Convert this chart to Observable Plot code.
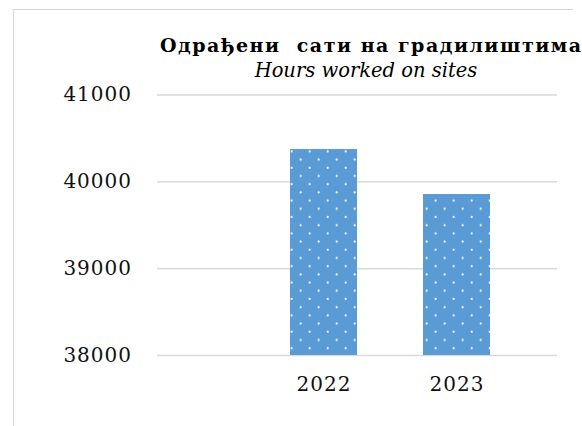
<!DOCTYPE html>
<html>
<head>
<meta charset="utf-8">
<script src="https://cdn.jsdelivr.net/npm/d3@7"></script>
<script src="https://cdn.jsdelivr.net/npm/@observablehq/plot@0.6"></script>
<style>
  html, body { margin: 0; padding: 0; background: #fff; }
  #wrap { position: relative; width: 582px; height: 426px; overflow: hidden; background: #fff; font-family: "DejaVu Serif", serif; }
  #frame { position: absolute; left: 13px; top: 9px; width: 559px; height: 440px; border-top: 1.5px solid #d9d9d9; border-left: 1.5px solid #d9d9d9; }
  .ttl { position: absolute; white-space: pre; color: #000; }
  #title { left: 160px; top: 34px; font-weight: bold; font-size: 19px; letter-spacing: 1.5px; }
  #subtitle { left: 66px; width: 600px; text-align: center; top: 59px; font-style: italic; font-size: 19.5px; }
  #chart { position: absolute; left: 0; top: 0; }
</style>
</head>
<body>
<div id="wrap">
  <div id="frame"></div>
  <div id="chart"></div>
  <div class="ttl" id="title"></div>
  <div class="ttl" id="subtitle"></div>
</div>
<script>
const titleText = "Одрађени  сати на градилиштима";
const subtitleText = "Hours worked on sites";
const years = ["2022", "2023"];
const hours = [40372, 39854];
const yTicks = [38000, 39000, 40000, 41000];

document.getElementById("title").textContent = titleText;
document.getElementById("subtitle").textContent = subtitleText;

const data = years.map((y, i) => ({year: y, hours: hours[i]}));

const chart = Plot.plot({
  width: 582,
  height: 426,
  marginLeft: 157,
  marginRight: 25,
  marginTop: 94.5,
  marginBottom: 71,
  style: {fontFamily: "DejaVu Serif, serif", fontSize: "20px", color: "#111", background: "transparent"},
  x: {domain: years, range: [256.75, 522.75], paddingInner: 0.5, paddingOuter: 0.25, label: null},
  y: {domain: [38000, 41000], label: null},
  marks: [
    Plot.ruleY(yTicks, {stroke: "#d9d9d9", strokeWidth: 1.5}),
    Plot.barY(data, {x: "year", y1: 38000, y2: "hours", fill: "url(#dots)"}),
    Plot.axisY({ticks: yTicks, tickSize: 0, tickPadding: 25.5, tickFormat: d => String(d), label: null}),
    Plot.axisX({tickSize: 0, tickPadding: 21, label: null})
  ]
});

// dotted fill pattern for the bars
const ns = "http://www.w3.org/2000/svg";
const defs = document.createElementNS(ns, "defs");
const pat = document.createElementNS(ns, "pattern");
pat.setAttribute("id", "dots");
pat.setAttribute("patternUnits", "userSpaceOnUse");
pat.setAttribute("width", "18");
pat.setAttribute("height", "16.4");
const bg = document.createElementNS(ns, "rect");
bg.setAttribute("width", "18"); bg.setAttribute("height", "16.4"); bg.setAttribute("fill", "#5b9bd5");
pat.appendChild(bg);
[[12.7, 12], [3.7, 3.8]].forEach(([cx, cy]) => {
  const c = document.createElementNS(ns, "circle");
  c.setAttribute("cx", cx); c.setAttribute("cy", cy); c.setAttribute("r", "1.1");
  c.setAttribute("fill", "#ffffff"); c.setAttribute("fill-opacity", "0.95");
  pat.appendChild(c);
});
defs.appendChild(pat);
chart.insertBefore(defs, chart.firstChild);
chart.querySelectorAll("text").forEach(t => t.style.letterSpacing = "1px");

document.getElementById("chart").appendChild(chart);
</script>
</body>
</html>
